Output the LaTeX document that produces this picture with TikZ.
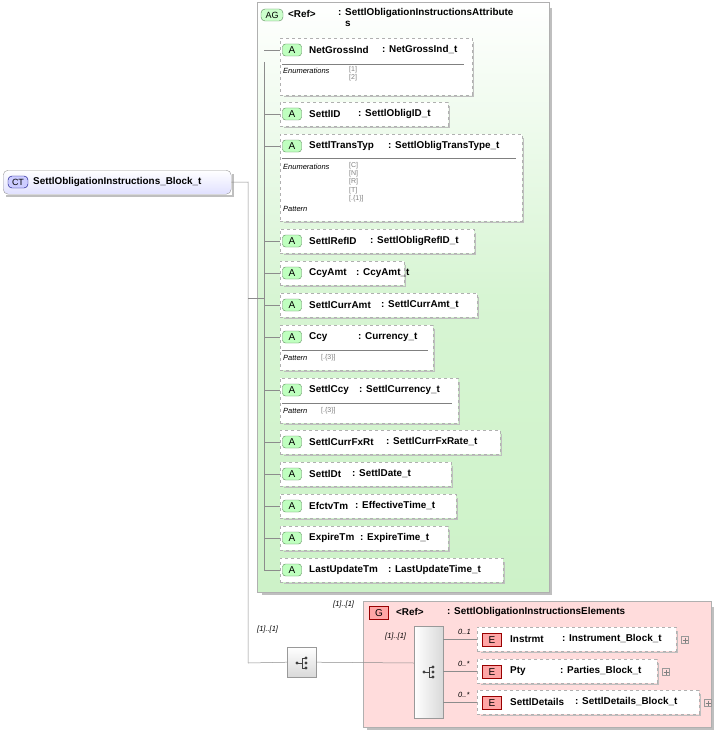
\documentclass[tikz,border=0pt]{standalone}
\usepackage{fontspec}
\setmainfont{Liberation Sans}
\usetikzlibrary{positioning}
\definecolor{gdark}{HTML}{5A8A5A}
\definecolor{gfill}{HTML}{CDF2C8}
\definecolor{pfill}{HTML}{FFDCDC}
\definecolor{bdr}{HTML}{B0B0B0}
\tikzset{
 x=1pt,y=-1pt,
 box/.style={draw=bdr,dashed,fill=white,anchor=north west,inner sep=0},
 shad/.style={draw=black!25,line width=1.5pt},
 abadge/.style={draw=gdark,fill=green!25,rounded corners=3pt,minimum width=19pt,minimum height=12pt,inner sep=0,font=\fontsize{10}{10}\selectfont},
 ebadge/.style={draw=red!60!black,fill=red!35,minimum width=19pt,minimum height=13pt,inner sep=0,font=\fontsize{10}{10}\selectfont},
 nm/.style={font=\bfseries\fontsize{9.9}{12}\selectfont,anchor=west,inner sep=0},
 sm/.style={font=\itshape\fontsize{7.5}{8}\selectfont,anchor=west,inner sep=0},
 val/.style={font=\fontsize{7}{8.3}\selectfont,text=black!50,anchor=north west,inner sep=0,align=left},
 conn/.style={draw=black!45,line width=0.5pt},
}
% #1 id, #2 top, #3 bottom, #4 right, #5 name, #6 type, #7 colon x
\newcommand\myattr[7]{%
 \draw[shad] (#4+1.5,#2+4) -- (#4+1.5,#3+1.5) -- (284,#3+1.5);
 \node[box,minimum width=#4-280,minimum height=#3-#2] (#1) at (280,#2) {};
 \node[abadge] (#1b) at (292,#2+12) {A};
 \node[nm] (#1n) at (309,#2+12) {#5};
 \node[nm] (#1t) at (#7,#2+12) {: #6};
 \draw[conn] (264,#2+12) -- (#1.west|-0,#2+12);
}
\begin{document}
\begin{tikzpicture}
\useasboundingbox (0,0) rectangle (718,733);
% AG group
\draw[shad] (551,8) -- (551,594) -- (262,594);
\node[anchor=north west,minimum width=292,minimum height=590,inner sep=0,draw=bdr,top color=white,bottom color=gfill,middle color=gfill!80] (ag) at (257,2) {};
\node[draw=gdark,fill=green!20,rounded corners=4pt,minimum width=22pt,minimum height=12pt,inner sep=0,font=\fontsize{9}{9}\selectfont] (agb) at (272,15) {AG};
\node[nm] (agr) at (288,14) {<Ref>};
\node[nm,anchor=north west,align=left] (agt) at (338,8) {: SettlObligationInstructionsAttribute\\[-1pt]\hspace{0.7em}s};
\draw[conn] (264,62) -- (264,570);
% attributes
\myattr{a1}{38}{95}{472}{NetGrossInd}{NetGrossInd\_t}{382}
\draw[black!50] (282,64) -- (464,64);
\node[sm] at (283,71) {Enumerations};
\node[val] at (349,66) {[1]\\\relax[2]};
\myattr{a2}{102}{126}{448}{SettlID}{SettlObligID\_t}{358}
\myattr{a3}{134}{221}{522}{SettlTransTyp}{SettlObligTransType\_t}{388}
\draw[black!50] (282,158) -- (516,158);
\node[sm] at (283,167) {Enumerations};
\node[val] at (349,162) {[C]\\\relax[N]\\\relax[R]\\\relax[T]\\\relax[.\{1\}]};
\node[sm] at (283,209) {Pattern};
\myattr{a4}{229}{253}{474}{SettlRefID}{SettlObligRefID\_t}{370}
\myattr{a5}{261}{285}{404}{CcyAmt}{CcyAmt\_t}{356}
\myattr{a6}{293}{317}{477}{SettlCurrAmt}{SettlCurrAmt\_t}{381}
\myattr{a7}{325}{370}{433}{Ccy}{Currency\_t}{358}
\draw[black!50] (282,350) -- (428,350);
\node[sm] at (283,358) {Pattern};
\node[val] at (321,354) {[.\{3\}]};
\myattr{a8}{378}{423}{458}{SettlCcy}{SettlCurrency\_t}{359}
\draw[black!50] (282,403) -- (452,403);
\node[sm] at (283,411) {Pattern};
\node[val] at (321,407) {[.\{3\}]};
\myattr{a9}{430}{454}{500}{SettlCurrFxRt}{SettlCurrFxRate\_t}{386}
\myattr{a10}{462}{486}{451}{SettlDt}{SettlDate\_t}{352}
\myattr{a11}{494}{518}{456}{EfctvTm}{EffectiveTime\_t}{355}
\myattr{a12}{526}{550}{448}{ExpireTm}{ExpireTime\_t}{360}
\myattr{a13}{558}{582}{503}{LastUpdateTm}{LastUpdateTime\_t}{388}
% CT
\draw[shad] (233,174) -- (233,196) -- (6,196);
\node[anchor=north west,minimum width=228,minimum height=24,inner sep=0,draw=black!40,rounded corners=5pt,top color=white,bottom color=blue!12] (ct) at (3,170) {};
\node[draw=blue!50!black,fill=blue!20,rounded corners=4pt,minimum width=20pt,minimum height=12pt,inner sep=0,font=\fontsize{9}{9}\selectfont] (ctb) at (18,182) {CT};
\node[nm] (ctn) at (33,182) {SettlObligationInstructions\_Block\_t};
\coordinate (j) at (248,182);
\draw[conn] (ct.east) -- (j) -- (248,663);
\draw[conn] (248,298) -- (264,298);
% outer sequence
\node[anchor=north west,minimum width=29,minimum height=30,inner sep=0,draw=black!40,top color=white,bottom color=black!15] (seq) at (287,647) {};
\foreach \d in {-5,0,5}{\fill[black!75] (306,663+\d) circle (1.6);}
\draw[black!75] (297,663) -- (302,663) (302,658) -- (302,668) (302,658) -- (306,658) (302,668) -- (306,668);
\fill[black!75] (297,663) circle (1.6);
\draw[conn] (248,663) -- (seq.west);
\node[sm] at (257,630) {[1]..[1]};
% G group
\draw[shad] (713,607) -- (713,729) -- (367,729);
\node[anchor=north west,minimum width=348,minimum height=126,inner sep=0,draw=bdr,fill=pfill] (g) at (363,601) {};
\node[sm] at (333,605) {[1]..[1]};
\node[ebadge] (gb) at (379,613) {G};
\node[nm] (gr) at (396,612) {<Ref>};
\node[nm] (gt) at (447,612) {: SettlObligationInstructionsElements};
% inner sequence
\node[anchor=north west,minimum width=29,minimum height=92,inner sep=0,draw=black!40,left color=white,right color=black!15] (iseq) at (414,626) {};
\foreach \d in {-5,0,5}{\fill[black!75] (433,672+\d) circle (1.6);}
\draw[black!75] (424,672) -- (429,672) (429,667) -- (429,677) (429,667) -- (433,667) (429,677) -- (433,677);
\fill[black!75] (424,672) circle (1.6);
\draw[conn] (seq.east) -- (iseq.west|-0,663);
\node[sm] at (385,637) {[1]..[1]};
% elements
\foreach \id/\t/\r/\n/\ty/\cx/\m in {e1/627/676/Instrmt/Instrument\_Block\_t/562/0..1, e2/659/657/Pty/Parties\_Block\_t/560/0..*, e3/690/699/SettlDetails/SettlDetails\_Block\_t/575/0..*}{
 \draw[shad] (\r+1.5,\t+4) -- (\r+1.5,\t+25.5) -- (481,\t+25.5);
 \node[box,minimum width=\r-477,minimum height=24] (\id) at (477,\t) {};
 \node[ebadge] (\id b) at (492,\t+13) {E};
 \node[nm] (\id n) at (510,\t+12) {\n};
 \node[nm] (\id t) at (\cx,\t+12) {: \ty};
 \node[draw=black!40,minimum size=7,inner sep=0] (\id p) at (\r+9,\t+13) {};
 \draw[black!50,line width=0.3pt] (\r+6.5,\t+13) -- (\r+11.5,\t+13) (\r+9,\t+10.5) -- (\r+9,\t+15.5);
 \draw[conn] (iseq.east|-0,\t+12) -- (\id.west|-0,\t+12);
 \node[sm] at (458,\t+5) {\m};
}
\end{tikzpicture}
\end{document}
